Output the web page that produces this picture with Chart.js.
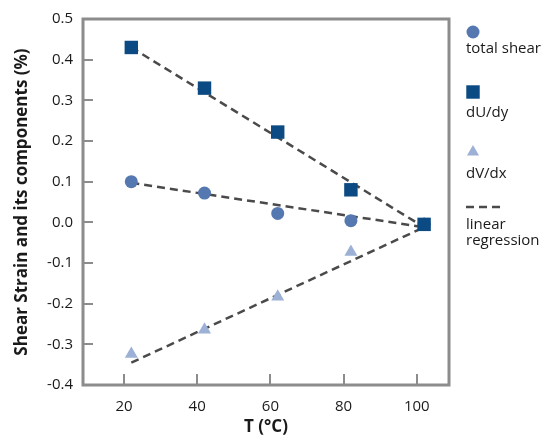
<!DOCTYPE html>
<html>
<head>
<meta charset="utf-8">
<script src="https://cdn.jsdelivr.net/npm/chart.js@4/dist/chart.umd.min.js"></script>
<style>
  html, body { margin: 0; padding: 0; background: #fff; }
  #wrap { position: relative; width: 549px; height: 440px; }
</style>
</head>
<body>
<div id="wrap"><canvas id="shearChart" width="549" height="440"></canvas></div>
<script>
  // values
  const temps = [22, 42, 62, 82, 102];
  const totalShear = [0.10, 0.072, 0.022, 0.004, -0.005];
  const dUdy = [0.43, 0.33, 0.222, 0.08, -0.005];
  const dVdx = [-0.324, -0.264, -0.183, -0.073, -0.005];

  // end points of the fitted lines
  const fitX = [22, 102];
  const fitTotal = [0.097, -0.012];
  const fitU = [0.43, -0.012];
  const fitV = [-0.345, -0.012];

  const xTicks = [20, 40, 60, 80, 100];
  const yTicks = [-0.4, -0.3, -0.2, -0.1, 0.0, 0.1, 0.2, 0.3, 0.4, 0.5];

  const FONT = "'Open Sans', 'DejaVu Sans', sans-serif";
  const AXIS_GREY = '#8c8c8c';
  const C_TOTAL = '#5678b0';
  const C_U = '#0b4a82';
  const C_V = '#9db0d6';
  const C_FIT = '#4a4a4a';

  function pts(xs, ys) {
    return xs.map((x, i) => ({ x: x, y: ys[i] }));
  }

  function markerSet(label, ys, color, style, radius) {
    return {
      label: label,
      data: pts(temps, ys),
      pointStyle: style,
      pointRadius: radius,
      pointHoverRadius: radius,
      backgroundColor: color,
      borderColor: color,
      borderWidth: 0,
      showLine: false,
    };
  }

  function fitSet(ys) {
    return {
      label: 'linear regression',
      data: pts(fitX, ys),
      showLine: true,
      pointRadius: 0,
      borderColor: C_FIT,
      borderWidth: 2.5,
      borderDash: [8, 5],
    };
  }

  // frame, inward tick marks and the side legend
  const framePlugin = {
    id: 'frame',
    afterDatasetsDraw(chart) {
      const ctx = chart.ctx;
      const a = chart.chartArea;
      const xs = chart.scales.x;
      const ys = chart.scales.y;
      ctx.save();
      ctx.strokeStyle = AXIS_GREY;
      ctx.lineWidth = 2;
      xTicks.forEach((v) => {
        const px = Math.round(xs.getPixelForValue(v));
        ctx.beginPath();
        ctx.moveTo(px, a.bottom);
        ctx.lineTo(px, a.bottom - 11);
        ctx.stroke();
      });
      yTicks.forEach((v) => {
        const py = Math.round(ys.getPixelForValue(v));
        ctx.beginPath();
        ctx.moveTo(a.left, py);
        ctx.lineTo(a.left + 10, py);
        ctx.stroke();
      });
      ctx.lineWidth = 3;
      ctx.strokeRect(a.left, a.top, a.right - a.left, a.bottom - a.top);
      ctx.restore();
    },
    afterDraw(chart) {
      const ctx = chart.ctx;
      const draw = Chart.helpers.drawPoint;
      ctx.save();
      ctx.font = '15px ' + FONT;
      ctx.fillStyle = '#1a1a1a';
      ctx.textBaseline = 'middle';
      ctx.textAlign = 'left';

      const items = [
        { style: 'circle', r: 6.5, color: C_TOTAL, y: 32, text: 'total shear', ty: 49 },
        { style: 'rect', r: 9.5, color: C_U, y: 92, text: 'dU/dy', ty: 113 },
        { style: 'triangle', r: 7, color: C_V, y: 152, text: 'dV/dx', ty: 174 },
      ];
      items.forEach((it) => {
        ctx.fillStyle = it.color;
        ctx.strokeStyle = it.color;
        draw(ctx, { pointStyle: it.style, radius: it.r, borderWidth: 0 }, 473, it.y);
        ctx.fillStyle = '#1a1a1a';
        ctx.fillText(it.text, 466, it.ty);
      });

      ctx.strokeStyle = C_FIT;
      ctx.lineWidth = 2.5;
      ctx.setLineDash([8, 5]);
      ctx.beginPath();
      ctx.moveTo(466, 207);
      ctx.lineTo(502, 207);
      ctx.stroke();
      ctx.setLineDash([]);
      ctx.fillText('linear', 466, 225);
      ctx.fillText('regression', 466, 241);
      ctx.restore();
    },
  };

  new Chart(document.getElementById('shearChart'), {
    type: 'scatter',
    data: {
      datasets: [
        markerSet('dU/dy', dUdy, C_U, 'rect', 9.5),
        markerSet('total shear', totalShear, C_TOTAL, 'circle', 6.5),
        markerSet('dV/dx', dVdx, C_V, 'triangle', 7.5),
        fitSet(fitU),
        fitSet(fitTotal),
        fitSet(fitV),
      ],
    },
    options: {
      responsive: false,
      animation: false,
      layout: { padding: { top: 16, right: 100, left: 0, bottom: 0 } },
      plugins: {
        legend: { display: false },
        tooltip: { enabled: false },
      },
      scales: {
        x: {
          type: 'linear',
          min: 8.8,
          max: 108.8,
          afterBuildTicks: (s) => { s.ticks = xTicks.map((v) => ({ value: v })); },
          afterFit: (s) => { s.height = 55; },
          grid: { display: false, drawTicks: false },
          border: { display: false },
          ticks: {
            padding: 13,
            color: '#1a1a1a',
            font: { family: FONT, size: 15 },
          },
          title: {
            display: true,
            text: 'T (°C)',
            color: '#1a1a1a',
            font: { family: FONT, size: 17, weight: 'bold' },
            padding: { top: 0, bottom: 3 },
          },
        },
        y: {
          type: 'linear',
          min: -0.4,
          max: 0.5,
          afterBuildTicks: (s) => { s.ticks = yTicks.map((v) => ({ value: v })); },
          afterFit: (s) => { s.width = 83; },
          grid: { display: false, drawTicks: false },
          border: { display: false },
          ticks: {
            padding: 10,
            color: '#1a1a1a',
            font: { family: FONT, size: 15 },
            callback: (v) => Number(v).toFixed(1),
          },
          title: {
            display: true,
            text: 'Shear Strain and its components (%)',
            color: '#1a1a1a',
            font: { family: FONT, size: 17, weight: 'bold' },
            padding: { top: 12, bottom: 0 },
          },
        },
      },
    },
    plugins: [framePlugin],
  });
</script>
</body>
</html>
